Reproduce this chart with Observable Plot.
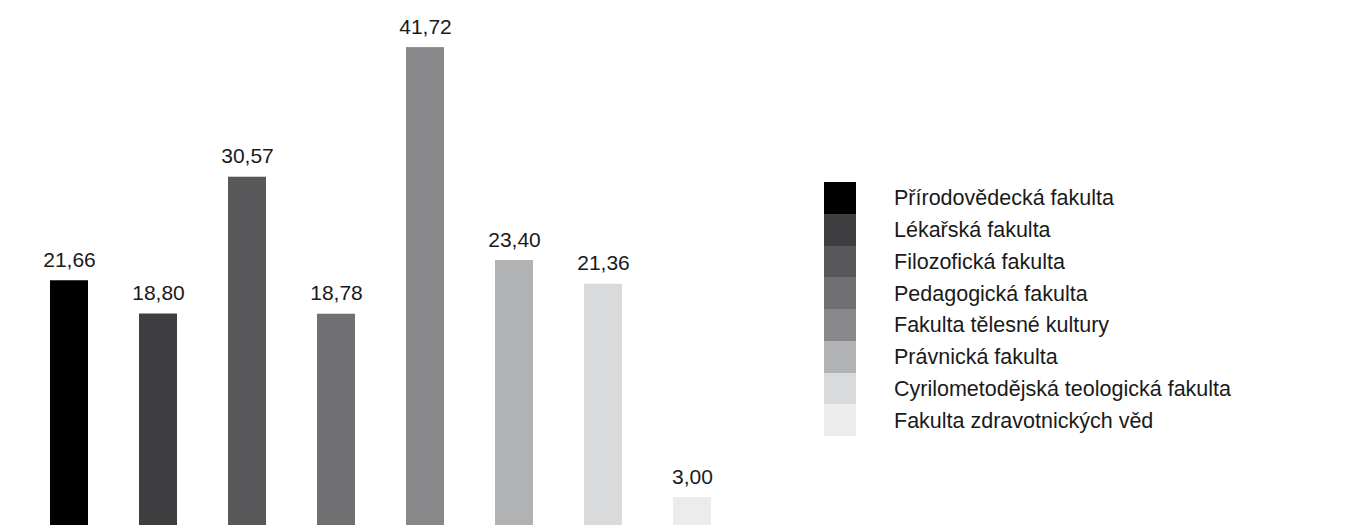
<!DOCTYPE html>
<html>
<head>
<meta charset="utf-8">
<script src="https://cdn.jsdelivr.net/npm/d3@7"></script>
<script src="https://cdn.jsdelivr.net/npm/@observablehq/plot@0.6"></script>
<style>
  html, body { margin: 0; padding: 0; background: #fff; overflow: hidden; }
  #wrap { position: relative; width: 1362px; height: 525px; overflow: hidden; font-family: "Liberation Sans", Arial, sans-serif; }
  #chart { position: absolute; left: 0; top: 0; }
  #legend { position: absolute; left: 824px; top: 182px; }
  .row { display: flex; align-items: center; height: 31.75px; }
  .sw { width: 32px; height: 31.75px; flex: none; }
  .lab { margin-left: 38px; padding-top: 2px; font-size: 21.5px; color: #1a1a1a; white-space: nowrap; }
</style>
</head>
<body>
<div id="wrap">
  <div id="chart"></div>
  <div id="legend"></div>
</div>
<script>
const faculties = [
  "Přírodovědecká fakulta",
  "Lékařská fakulta",
  "Filozofická fakulta",
  "Pedagogická fakulta",
  "Fakulta tělesné kultury",
  "Právnická fakulta",
  "Cyrilometodějská teologická fakulta",
  "Fakulta zdravotnických věd"
];
const values = [21.66, 18.80, 30.57, 18.78, 41.72, 23.40, 21.36, 3.00];
const colors = ["#000000", "#3e3e40", "#58585a", "#707072", "#88888a", "#b1b2b4", "#d9dadb", "#ebeceb"];

const data = faculties.map((f, i) => ({faculty: f, value: values[i]}));
const fmt = v => v.toFixed(2).replace(".", ",");

const chart = Plot.plot({
  width: 760,
  height: 540,
  marginLeft: 0,
  marginRight: 0,
  marginTop: 9,
  marginBottom: 8,
  style: {fontFamily: "Liberation Sans, Arial, sans-serif", background: "transparent"},
  x: {domain: faculties, paddingInner: 0.574, paddingOuter: 0.55, axis: null},
  y: {domain: [0, 45], axis: null},
  color: {domain: faculties, range: colors},
  marks: [
    Plot.barY(data, {x: "faculty", y: "value", fill: "faculty"}),
    Plot.text(data, {x: "faculty", y: "value", text: d => fmt(d.value), dy: -14, fontSize: 21, fill: "#1a1a1a", lineAnchor: "bottom", textAnchor: "middle"})
  ]
});
document.getElementById("chart").appendChild(chart);

const legend = document.getElementById("legend");
faculties.forEach((f, i) => {
  const row = document.createElement("div");
  row.className = "row";
  const sw = document.createElement("div");
  sw.className = "sw";
  sw.style.background = colors[i];
  const lab = document.createElement("div");
  lab.className = "lab";
  lab.textContent = f;
  row.appendChild(sw);
  row.appendChild(lab);
  legend.appendChild(row);
});
</script>
</body>
</html>
